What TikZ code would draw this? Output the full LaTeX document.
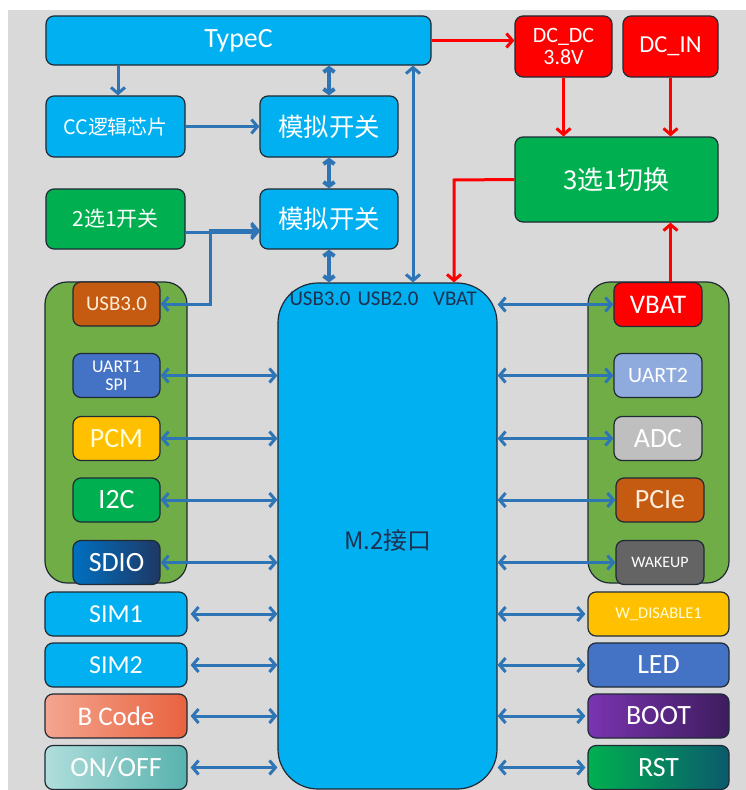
\documentclass[tikz,border=0pt]{standalone}
\usepackage{fontspec}
\setmainfont{Carlito}
\newfontfamily\cjk{Noto Sans CJK SC}
\usetikzlibrary{arrows.meta}
\definecolor{bg}{HTML}{D9D9D9}
\definecolor{sky}{HTML}{00B0F0}
\definecolor{edge}{HTML}{1F2A36}
\definecolor{ablue}{HTML}{2E75B6}
\definecolor{grp}{HTML}{70AD47}
\definecolor{gr}{HTML}{00B050}
\definecolor{rd}{HTML}{FF0000}
\definecolor{brn}{HTML}{C55A11}
\definecolor{mblue}{HTML}{4472C4}
\definecolor{yel}{HTML}{FFC000}
\definecolor{lblue}{HTML}{8FAADC}
\definecolor{lgray}{HTML}{BFBFBF}
\definecolor{dgray}{HTML}{646464}
\definecolor{navy}{HTML}{0070C0}
\definecolor{dnavy}{HTML}{1F3864}
\definecolor{salm1}{HTML}{F4A590}
\definecolor{salm2}{HTML}{E8623E}
\definecolor{teal1}{HTML}{B0DEDC}
\definecolor{teal2}{HTML}{58B2AE}
\definecolor{pur1}{HTML}{7A34B0}
\definecolor{pur2}{HTML}{3E1C5E}
\definecolor{rst1}{HTML}{00B050}
\definecolor{rst2}{HTML}{0B5A6C}
\definecolor{lbl}{HTML}{1F3050}
\newcommand\myfs[1]{\fontsize{#1}{#1}\selectfont}
\newcommand\myfst[2]{\fontsize{#1}{#2}\selectfont}
\tikzset{
  box/.style={draw=edge, line width=1.2bp, rounded corners=8bp, inner sep=0pt, text=white, align=center},
  grpbox/.style={draw=edge, line width=1.2bp, rounded corners=22bp, fill=grp, inner sep=0pt},
  dbl/.style={draw=ablue, line width=3bp, {Straight Barb[length=6bp,width=14bp]}-{Straight Barb[length=6bp,width=14bp]}},
  sgl/.style={draw=ablue, line width=3bp, -{Straight Barb[length=6bp,width=14bp]}},
  thick2/.style={draw=ablue, line width=4bp, {Straight Barb[length=4bp,width=11bp]}-{Straight Barb[length=4bp,width=11bp]}},
  rarr/.style={draw=rd, line width=3bp, -{Straight Barb[length=6bp,width=14bp]}},
}
\begin{document}
\begin{tikzpicture}[x=1bp,y=-1bp]
\useasboundingbox (0,0) rectangle (746,790);
\fill[white] (0,0) rectangle (746,790);
\fill[bg] (8,10) rectangle (746,790);

% top area
\node[box, fill=sky, minimum width=385bp, minimum height=49bp, font=\myfs{28}] (typec) at (238.5,40.5) {TypeC};
\node[box, fill=sky, minimum width=139bp, minimum height=61bp, font=\cjk\myfs{20}] (cc) at (115.5,126.5) {CC逻辑芯片};
\node[box, fill=sky, minimum width=138bp, minimum height=61bp, font=\cjk\myfs{25.5}] (sw1) at (329,126.5) {模拟开关};
\node[box, fill=gr, minimum width=139bp, minimum height=60bp, font=\cjk\myfs{21}] (s21) at (115.5,219) {2选1开关};
\node[box, fill=sky, minimum width=138bp, minimum height=60bp, font=\cjk\myfs{25.5}] (sw2) at (329,219) {模拟开关};
\node[box, fill=rd, minimum width=97bp, minimum height=61bp, font=\myfst{22}{22}] (dcdc) at (563.5,46.5) {DC\_DC\\3.8V};
\node[box, fill=rd, minimum width=95bp, minimum height=61bp, font=\myfs{24.5}] (dcin) at (670.5,46.5) {DC\_IN};
\node[box, fill=gr, minimum width=203bp, minimum height=85bp, font=\cjk\myfs{26}] (sel3) at (616.5,179.5) {3选1切换};

% M.2
\node[draw=edge, line width=1.2bp, fill=sky, rounded corners=40bp, minimum width=219bp, minimum height=506bp, inner sep=0pt] (m2) at (387.5,536) {};
\node[font=\cjk\myfs{24}, text=lbl] (m2lbl) at (388,540) {M.2接口};
\node[font=\myfs{21}, text=lbl] (tl1) at (320,299) {USB3.0};
\node[font=\myfs{21}, text=lbl] (tl2) at (388,299) {USB2.0};
\node[font=\myfs{21}, text=lbl] (tl3) at (455,299) {VBAT};

% groups
\node[grpbox, minimum width=142bp, minimum height=301bp] (lg) at (116,432.5) {};
\node[grpbox, minimum width=141bp, minimum height=301bp] (rg) at (658.5,432.5) {};

% left group items
\node[box, fill=brn, minimum width=87bp, minimum height=44bp, font=\myfs{21}, text=orange!15] (usb3) at (116.5,304) {USB3.0};
\node[box, fill=mblue, minimum width=87bp, minimum height=44bp, font=\myfst{18}{18}] (uart1) at (116.5,375.5) {UART1\\SPI};
\node[box, fill=yel, minimum width=87bp, minimum height=44bp, font=\myfs{28}, text=yellow!15] (pcm) at (116.5,438.5) {PCM};
\node[box, fill=gr, minimum width=87bp, minimum height=44bp, font=\myfs{28}] (i2c) at (116.5,500) {I2C};
\node[box, left color=navy, right color=dnavy, minimum width=87bp, minimum height=44bp, font=\myfs{28}] (sdio) at (116.5,562.5) {SDIO};

% right group items
\node[box, fill=rd, minimum width=88bp, minimum height=44bp, font=\myfs{27}] (vbat) at (658,304.5) {VBAT};
\node[box, fill=lblue, minimum width=88bp, minimum height=44bp, font=\myfs{22}] (uart2) at (658,375.5) {UART2};
\node[box, fill=lgray, minimum width=88bp, minimum height=44bp, font=\myfs{28}] (adc) at (658,438.5) {ADC};
\node[box, fill=brn, minimum width=88bp, minimum height=44bp, font=\myfs{28}, text=orange!15] (pcie) at (660,500) {PCIe};
\node[box, fill=dgray, minimum width=88bp, minimum height=44bp, font=\myfs{16}] (wake) at (660,562.5) {WAKEUP};

% left bottom
\node[box, fill=sky, minimum width=142bp, minimum height=44bp, font=\myfs{26}] (sim1) at (116,614) {SIM1};
\node[box, fill=sky, minimum width=142bp, minimum height=44bp, font=\myfs{26}] (sim2) at (116,665) {SIM2};
\node[box, left color=salm1, right color=salm2, minimum width=142bp, minimum height=44bp, font=\myfs{27}] (bcode) at (116,716) {B Code};
\node[box, left color=teal1, right color=teal2, minimum width=142bp, minimum height=44bp, font=\myfs{28}] (onoff) at (116,767.5) {ON/OFF};

% right bottom
\node[box, fill=yel, minimum width=141bp, minimum height=44bp, font=\myfs{16.5}, text=yellow!15] (wdis) at (658.5,614) {W\_DISABLE1};
\node[box, fill=mblue, minimum width=141bp, minimum height=44bp, font=\myfs{28}] (led) at (658.5,665) {LED};
\node[box, left color=pur1, right color=pur2, minimum width=141bp, minimum height=44bp, font=\myfs{28}] (boot) at (658.5,716) {BOOT};
\node[box, left color=rst1, right color=rst2, minimum width=141bp, minimum height=44bp, font=\myfs{28}] (rst) at (658.5,767.5) {RST};

% coordinates
\coordinate (ccTop) at (118,66);
\coordinate (usbBend1) at (210,304);
\coordinate (usbBend2) at (210,230);
\coordinate (selBend) at (454,180);

% blue connectors
\draw[sgl] (typec.south -| ccTop) -- (cc.north -| ccTop);
\draw[sgl] (cc.east) -- (sw1.west);
\draw[sgl] ([yshift=-13bp]s21.east) -- ([yshift=-13bp]s21.east -| sw2.west);
\draw[dbl] (usb3.east) -- (usbBend1) -- (usbBend2) -- (usbBend2 -| sw2.west);
\draw[thick2] (sw1.north |- typec.south) -- (sw1.north);
\draw[thick2] (sw1.south) -- (sw2.north);
\draw[thick2] (sw2.south) -- (sw2.south |- m2.north);
\draw[dbl] ([xshift=174.5bp]typec.south) -- ([xshift=174.5bp]typec.south |- m2.north);

% left/right to M.2
\foreach \n in {uart1,pcm,i2c,sdio}{
  \draw[dbl] (\n.east) -- (\n.east -| m2.west);
}
\foreach \n in {sim1,sim2,bcode,onoff}{
  \draw[dbl] ([xshift=3bp]\n.east) -- (\n.east -| m2.west);
}
\foreach \n in {vbat,uart2,adc,pcie,wake}{
  \draw[dbl] (\n.west -| m2.east) -- (\n.west);
}
\foreach \n in {wdis,led,boot,rst}{
  \draw[dbl] (\n.west -| m2.east) -- ([xshift=-2bp]\n.west);
}

% red connectors
\draw[rarr] (typec.east) -- (typec.east -| dcdc.west);
\draw[rarr] (dcdc.south) -- (dcdc.south |- sel3.north);
\draw[rarr] (dcin.south) -- (dcin.south |- sel3.north);
\draw[rarr] (sel3.west) -- (selBend) -- (selBend |- m2.north);
\draw[rarr] (vbat.north -| dcin.south) -- (dcin.south |- sel3.south);
\end{tikzpicture}
\end{document}
